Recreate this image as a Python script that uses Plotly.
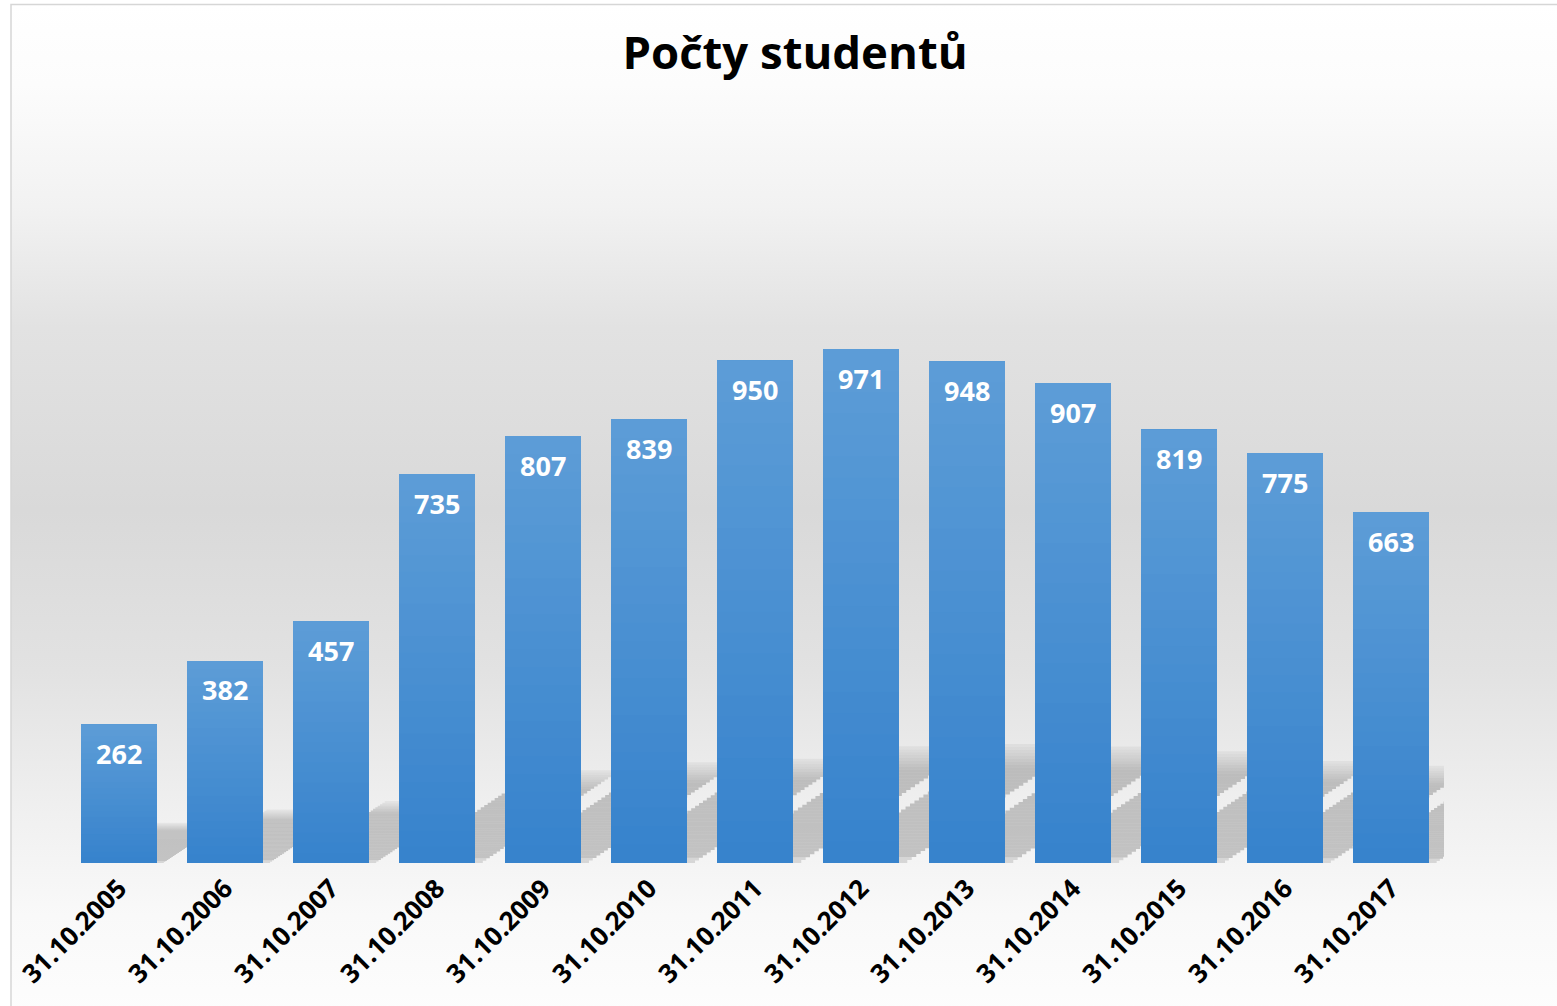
import base64
import plotly.graph_objects as go

categories = ["31.10.2005", "31.10.2006", "31.10.2007", "31.10.2008", "31.10.2009",
              "31.10.2010", "31.10.2011", "31.10.2012", "31.10.2013", "31.10.2014",
              "31.10.2015", "31.10.2016", "31.10.2017"]
students = [262, 382, 457, 735, 807, 839, 950, 971, 948, 907, 819, 775, 663]
title_text = "Počty studentů"

W, H = 1557, 1006
L, R, T, B = 66, 113, 334, 143
PW, PH = W - L - R, H - T - B
YMAX = 1000
PX_PER_UNIT = PH / YMAX
PX_PER_CAT = PW / len(categories)

def px_to_paper_x(px):
    return (px - L) / PW

def px_to_paper_y(py):
    return (H - B - py) / PH

bar_w = 0.717
bottom_rgb = (54, 130, 204)
top_rgb = (93, 157, 215)

fig = go.Figure()

# skewed soft shadow behind bars, built from stacked bands
shadow_h = [v * 0.21 + 21 for v in students]
shadow_w = bar_w * 1.08
skew = 1.5
nb = 40
for j in range(nb):
    f0, f1 = j / nb, (j + 1) / nb
    fm = (f0 + f1) / 2
    offs = [-bar_w / 2 + skew * (h * fm * PX_PER_UNIT) / PX_PER_CAT for h in shadow_h]
    if fm > 0.8:
        a = 0.2 * (1 - (fm - 0.8) / 0.24)
    elif fm < 0.06:
        a = 0.12
    else:
        a = 0.2
    fig.add_trace(go.Bar(x=categories, y=[h * (f1 - f0) for h in shadow_h],
                         base=[h * f0 for h in shadow_h], width=shadow_w, offset=offs,
                         marker=dict(color="rgba(0,0,0,%.3f)" % max(a, 0.02), line=dict(width=0)),
                         hoverinfo="skip", showlegend=False))

# vertical gradient for each bar, built as overlaid segments
steps = 24
for i in range(steps):
    k = i / steps
    t = (i + 0.5) / steps
    c = tuple(round(bottom_rgb[j] + (top_rgb[j] - bottom_rgb[j]) * t) for j in range(3))
    fig.add_trace(go.Bar(x=categories, y=[v * (1 - k) for v in students],
                         base=[v * k for v in students], width=bar_w, offset=-bar_w / 2,
                         marker=dict(color="rgb(%d,%d,%d)" % c, line=dict(width=0)),
                         hoverinfo="skip" if i else "x+y", showlegend=False))

# value labels
for c_, v in zip(categories, students):
    fig.add_annotation(x=c_, y=v, text=str(v), showarrow=False, yanchor="middle",
                       yshift=-29, font=dict(family="Open Sans", size=27, color="white",
                                             weight="bold"))

# background gradient
svg = (
    '<svg xmlns="http://www.w3.org/2000/svg" width="100" height="100" preserveAspectRatio="none">'
    '<defs><linearGradient id="g" x1="0" y1="0" x2="0" y2="1">'
    '<stop offset="0" stop-color="#ffffff"/>'
    '<stop offset="0.08" stop-color="#fcfcfc"/>'
    '<stop offset="0.2" stop-color="#f2f2f2"/>'
    '<stop offset="0.32" stop-color="#e2e2e2"/>'
    '<stop offset="0.5" stop-color="#d9d9d9"/>'
    '<stop offset="0.66" stop-color="#e2e2e2"/>'
    '<stop offset="0.8" stop-color="#f0f0f0"/>'
    '<stop offset="0.9" stop-color="#f9f9f9"/>'
    '<stop offset="1" stop-color="#fdfdfd"/>'
    '</linearGradient></defs>'
    '<rect width="100" height="100" fill="url(#g)"/></svg>'
)
src = "data:image/svg+xml;base64," + base64.b64encode(svg.encode()).decode()
fig.add_layout_image(dict(source=src, xref="paper", yref="paper",
                          x=px_to_paper_x(11), y=px_to_paper_y(4),
                          sizex=(W + 40 - 11) / PW, sizey=(H + 10 - 4) / PH,
                          xanchor="left", yanchor="top", sizing="stretch", layer="below"))

fig.add_shape(type="rect", xref="paper", yref="paper",
              x0=px_to_paper_x(11), x1=px_to_paper_x(W + 40),
              y0=px_to_paper_y(H + 20), y1=px_to_paper_y(4.5),
              line=dict(color="#d6d6d6", width=1.5), fillcolor="rgba(0,0,0,0)")

fig.update_layout(
    width=W, height=H,
    margin=dict(l=L, r=R, t=T, b=B),
    barmode="overlay",
    paper_bgcolor="white",
    plot_bgcolor="rgba(0,0,0,0)",
    title=dict(text=title_text, x=795 / W, xref="container", xanchor="center",
               y=1 - 53 / H, yref="container", yanchor="middle",
               font=dict(family="Open Sans", size=45.5, color="black", weight="bold")),
    xaxis=dict(type="category", range=[-0.5, len(categories) - 0.5], showgrid=False,
               showline=False, zeroline=False, ticks="", tickangle=-45,
               ticklabelstandoff=4,
               tickfont=dict(family="Open Sans", size=26, color="black", weight="bold")),
    yaxis=dict(range=[0, YMAX], visible=False, showgrid=False, zeroline=False),
)

fig.write_html("out.html", config={"displayModeBar": False},
               post_script="document.body.style.margin='0';document.body.style.overflow='hidden';")
